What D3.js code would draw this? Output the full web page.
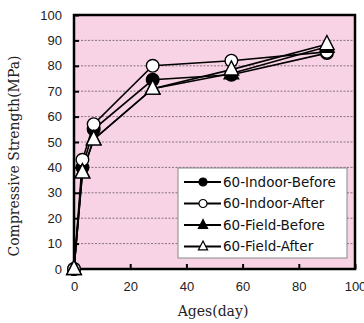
<!DOCTYPE html>
<html>
<head>
<meta charset="utf-8">
<script src="https://cdn.jsdelivr.net/npm/d3@7"></script>
<style>
  html, body { margin: 0; padding: 0; background: #fff; }
  svg { display: block; }
</style>
</head>
<body>
<svg id="chart" width="364" height="323"></svg>
<script>
// Compressive strength development by curing age
const ages = [0, 3, 7, 28, 56, 90];
const indoorBefore = [0, 40, 55, 74.5, 76.5, 85];
const indoorAfter  = [0, 43, 57, 80, 82, 85.5];
const fieldBefore  = [0, 38, 51, 71, 77, 87.5];
const fieldAfter   = [0, 38, 51, 71, 78.5, 88.5];
const seriesNames  = ["60-Indoor-Before", "60-Indoor-After", "60-Field-Before", "60-Field-After"];
const xTicks = [0, 20, 40, 60, 80, 100];
const yTicks = [0, 10, 20, 30, 40, 50, 60, 70, 80, 90, 100];

const series = [
  { name: seriesNames[0], values: indoorBefore, shape: "circle",   fill: "#000" },
  { name: seriesNames[1], values: indoorAfter,  shape: "circle",   fill: "#fff" },
  { name: seriesNames[2], values: fieldBefore,  shape: "triangle", fill: "#000" },
  { name: seriesNames[3], values: fieldAfter,   shape: "triangle", fill: "#fff" }
];

const W = 364, H = 323;
const m = { left: 74, right: 9, top: 15, bottom: 54 };
const iw = W - m.left - m.right, ih = H - m.top - m.bottom;

const svg = d3.select("#chart");
const g = svg.append("g").attr("transform", `translate(${m.left},${m.top})`);

const x = d3.scaleLinear().domain([0, 100]).range([0, iw]);
const y = d3.scaleLinear().domain([0, 100]).range([ih, 0]);

// plot background
g.append("rect").attr("width", iw).attr("height", ih).attr("fill", "#F8D3E5");

// dotted grid
g.append("g").selectAll("line").data(yTicks.filter(d => d > 0 && d < 100)).join("line")
  .attr("x1", 0).attr("x2", iw)
  .attr("y1", d => y(d)).attr("y2", d => y(d))
  .attr("stroke", "#6a5a62").attr("stroke-width", 0.8).attr("stroke-dasharray", "2,1.5");

// axes with inward ticks
const yAxis = g.append("g").call(d3.axisLeft(y).tickValues(yTicks).tickSize(-5).tickPadding(12));
const xAxis = g.append("g").attr("transform", `translate(0,${ih})`)
  .call(d3.axisBottom(x).tickValues(xTicks).tickSize(-5).tickPadding(13));
[yAxis, xAxis].forEach(a => {
  a.select(".domain").remove();
  a.selectAll(".tick line").attr("stroke", "#000").attr("stroke-width", 2);
  a.selectAll(".tick text").attr("font-family", "Liberation Sans, Arial, sans-serif")
    .attr("font-size", 13).attr("fill", "#222");
});

// frame
g.append("rect").attr("width", iw).attr("height", ih)
  .attr("fill", "none").attr("stroke", "#000").attr("stroke-width", 2.5);

// marker drawing
function marker(sel, shape, r) {
  if (shape === "circle") {
    sel.append("circle").attr("r", r);
  } else {
    const h = r * 1.15;
    sel.append("path").attr("d", `M0,${-h * 1.2}L${h},${h * 0.75}L${-h},${h * 0.75}Z`);
  }
}

const line = d3.line().x((d, i) => x(ages[i])).y(d => y(d));

series.forEach(s => {
  g.append("path").datum(s.values).attr("d", line)
    .attr("fill", "none").attr("stroke", "#000").attr("stroke-width", 1.6);
});
series.forEach(s => {
  s.values.forEach((v, i) => {
    const mk = g.append("g").attr("transform", `translate(${x(ages[i])},${y(v)})`)
      .attr("fill", s.fill).attr("stroke", "#000").attr("stroke-width", 1.4);
    marker(mk, s.shape, 6.3);
  });
});

// legend
const lg = svg.append("g").attr("transform", "translate(178,168)");
lg.append("rect").attr("width", 169).attr("height", 90)
  .attr("fill", "#fff").attr("stroke", "#888").attr("stroke-width", 1);
series.forEach((s, i) => {
  const yy = 14 + i * 21.5;
  lg.append("line").attr("x1", 6).attr("x2", 43).attr("y1", yy).attr("y2", yy)
    .attr("stroke", "#000").attr("stroke-width", 2);
  const mk = lg.append("g").attr("transform", `translate(25,${yy})`)
    .attr("fill", s.fill).attr("stroke", "#000").attr("stroke-width", 1.2);
  marker(mk, s.shape, 4);
  lg.append("text").attr("x", 45).attr("y", yy).attr("dy", "0.36em")
    .attr("font-family", "DejaVu Sans, sans-serif").attr("font-size", 13.5)
    .attr("fill", "#111").text(s.name);
});

// axis titles
svg.append("text").attr("transform", `translate(14,156) rotate(-90)`)
  .attr("text-anchor", "middle").attr("dy", "0.35em")
  .attr("font-family", "DejaVu Serif, serif").attr("font-size", 14)
  .attr("fill", "#222").text("Compressive Strength(MPa)");
svg.append("text").attr("x", 213).attr("y", 316)
  .attr("text-anchor", "middle")
  .attr("font-family", "DejaVu Serif, serif").attr("font-size", 14)
  .attr("fill", "#222").text("Ages(day)");
</script>
</body>
</html>
